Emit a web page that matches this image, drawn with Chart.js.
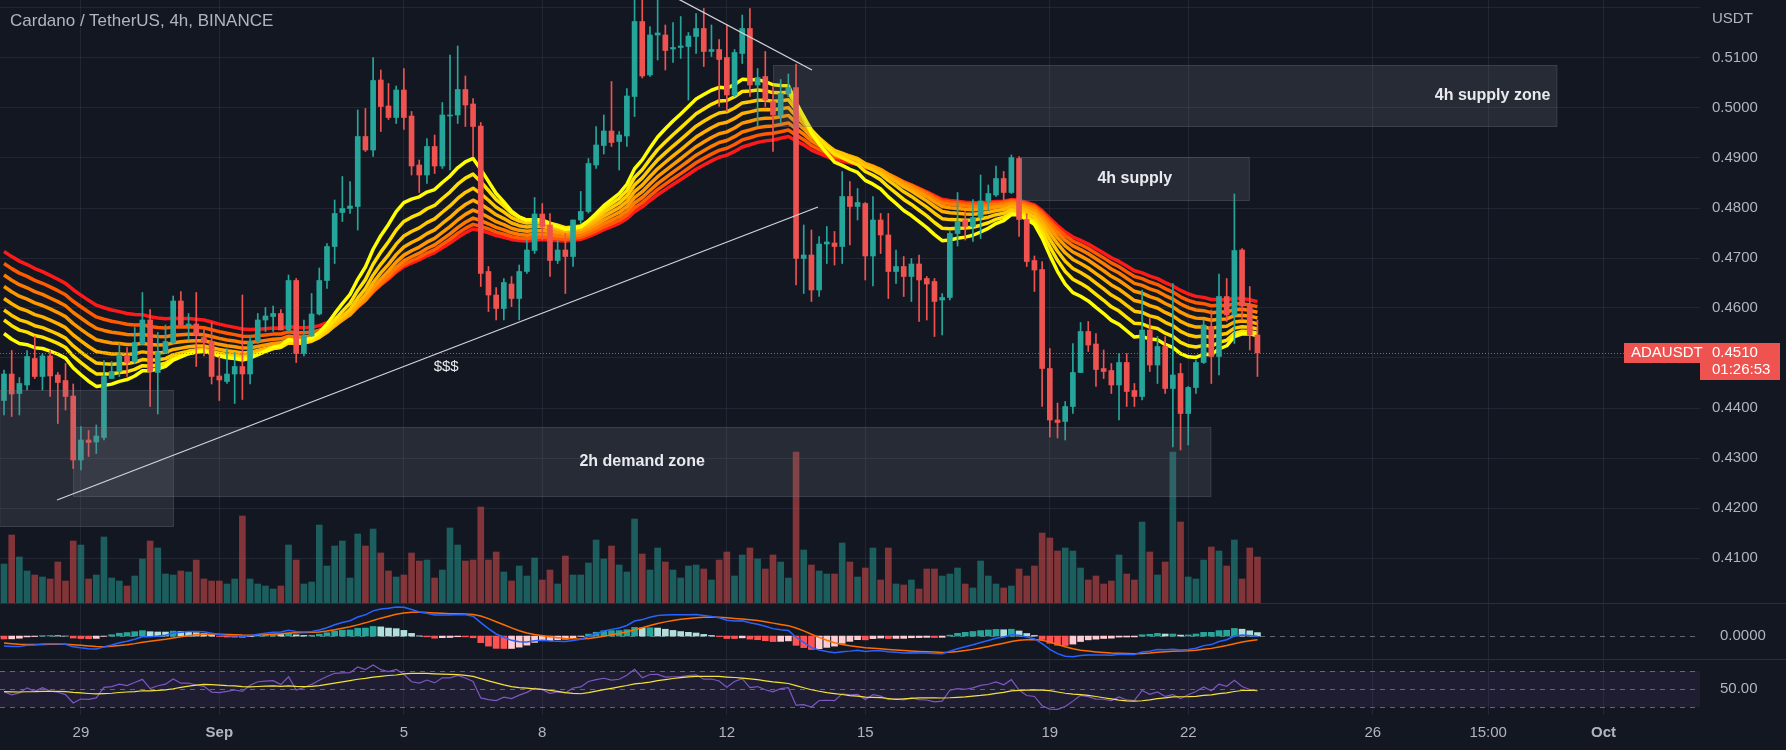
<!DOCTYPE html>
<html>
<head>
<meta charset="utf-8">
<script src="https://cdn.jsdelivr.net/npm/chart.js@4.4.0/dist/chart.umd.min.js"></script>
<style>
  html, body { margin: 0; padding: 0; background: #131722; overflow: hidden; }
  #wrap { position: relative; width: 1786px; height: 750px; background: #131722; }
  #wrap canvas { position: absolute; left: 0; }
  .txt { position: absolute; font-family: 'Liberation Sans', Arial, sans-serif; color: #b2b5be; white-space: nowrap; }
  .sep { position: absolute; left: 0; width: 1786px; height: 1px; background: #2a2e39; }
</style>
</head>
<body>
<div id="wrap">
  <canvas id="main" width="1786" height="603" style="top:0"></canvas>
  <canvas id="macd" width="1786" height="56" style="top:603px"></canvas>
  <canvas id="rsi" width="1786" height="91" style="top:659px"></canvas>
  <div class="sep" style="top:603px"></div>
  <div class="sep" style="top:659px"></div>
  <div class="txt" style="left:10px;top:12px;font-size:17px;line-height:18px;">Cardano / TetherUS, 4h, BINANCE</div>
  <div class="txt" style="left:1712px;top:9px;font-size:15px;line-height:17px;">USDT</div>
</div>
<script>
// ADAUSDT 4h candles, bar 0 = Aug 27 08:00, 6 bars per day
const opens = [
  0.4415, 0.4468, 0.4429, 0.4446, 0.4499, 0.4463, 0.4504, 0.4466, 0.4455, 0.4424,
  0.4296, 0.4336, 0.4332, 0.4341, 0.4459, 0.4473, 0.4505, 0.4493, 0.4528, 0.4576,
  0.4471, 0.4511, 0.4531, 0.4614, 0.4565, 0.4568, 0.4541, 0.4533, 0.4464, 0.4453,
  0.4468, 0.4483, 0.4468, 0.4533, 0.4576, 0.4583, 0.4589, 0.4556, 0.4655, 0.4509,
  0.4544, 0.4588, 0.4655, 0.4723, 0.4791, 0.4799, 0.4803, 0.4943, 0.4916, 0.5056,
  0.5004, 0.4981, 0.5036, 0.4984, 0.4886, 0.4866, 0.4923, 0.4884, 0.4984, 0.4986,
  0.5037, 0.5008, 0.4964, 0.4673, 0.4626, 0.4599, 0.4648, 0.4619, 0.4673, 0.4715,
  0.4788, 0.4766, 0.4695, 0.4716, 0.4703, 0.4776, 0.4793, 0.4886, 0.4925, 0.4954,
  0.4933, 0.4944, 0.5023, 0.5173, 0.5066, 0.5146, 0.5146, 0.5118, 0.5121, 0.5123,
  0.5143, 0.5159, 0.5113, 0.5117, 0.5101, 0.5026, 0.5109, 0.5159, 0.5046, 0.5063,
  0.5013, 0.4986, 0.5029, 0.5041, 0.4699, 0.4706, 0.4636, 0.4728, 0.4730, 0.4723,
  0.4823, 0.4803, 0.4809, 0.4704, 0.4776, 0.4746, 0.4673, 0.4683, 0.4663, 0.4688,
  0.4659, 0.4653, 0.4616, 0.4621, 0.4749, 0.4776, 0.4763, 0.4781, 0.4814, 0.4826,
  0.4859, 0.4831, 0.4899, 0.4777, 0.4695, 0.4677, 0.4479, 0.4376, 0.4373, 0.4403,
  0.4471, 0.4553, 0.4528, 0.4479, 0.4475, 0.4446, 0.4491, 0.4435, 0.4423, 0.4556,
  0.4486, 0.4523, 0.4439, 0.4469, 0.4389, 0.4441, 0.4491, 0.4563, 0.4503, 0.4623,
  0.4586, 0.4716, 0.4606, 0.4546
];
const highs = [
  0.4476, 0.4515, 0.4461, 0.4515, 0.4544, 0.4509, 0.4515, 0.4471, 0.4489, 0.4448,
  0.4363, 0.4355, 0.4366, 0.4495, 0.4493, 0.4529, 0.4521, 0.4561, 0.4631, 0.4597,
  0.4551, 0.4566, 0.4624, 0.4633, 0.4589, 0.4631, 0.4557, 0.4571, 0.4503, 0.4519,
  0.4511, 0.4626, 0.4543, 0.4589, 0.4601, 0.4604, 0.4597, 0.4666, 0.4659, 0.4576,
  0.4629, 0.4680, 0.4729, 0.4816, 0.4863, 0.4853, 0.4996, 0.4999, 0.5101, 0.5076,
  0.5049, 0.5044, 0.5079, 0.4993, 0.4896, 0.4939, 0.4946, 0.5011, 0.5106, 0.5124,
  0.5064, 0.5019, 0.4971, 0.4683, 0.4641, 0.4659, 0.4663, 0.4686, 0.4736, 0.4821,
  0.4809, 0.4789, 0.4736, 0.4749, 0.4776, 0.4833, 0.4899, 0.4963, 0.4986, 0.5053,
  0.4953, 0.5039, 0.5230, 0.5222, 0.5163, 0.5216, 0.5166, 0.5171, 0.5183, 0.5151,
  0.5189, 0.5199, 0.5166, 0.5137, 0.5166, 0.5117, 0.5186, 0.5199, 0.5079, 0.5113,
  0.5043, 0.5057, 0.5068, 0.5088, 0.4766, 0.4756, 0.4743, 0.4763, 0.4753, 0.4873,
  0.4853, 0.4839, 0.4811, 0.4823, 0.4789, 0.4789, 0.4716, 0.4703, 0.4699, 0.4706,
  0.4663, 0.4659, 0.4629, 0.4753, 0.4831, 0.4793, 0.4817, 0.4866, 0.4846, 0.4884,
  0.4873, 0.4906, 0.4903, 0.4789, 0.4704, 0.4693, 0.4519, 0.4410, 0.4413, 0.4529,
  0.4571, 0.4573, 0.4549, 0.4516, 0.4489, 0.4509, 0.4509, 0.4449, 0.4636, 0.4579,
  0.4543, 0.4543, 0.4649, 0.4489, 0.4443, 0.4496, 0.4576, 0.4596, 0.4668, 0.4659,
  0.4828, 0.4719, 0.4643, 0.4576
];
const lows = [
  0.4386, 0.4383, 0.4386, 0.4436, 0.4459, 0.4436, 0.4423, 0.4369, 0.4396, 0.4279,
  0.4276, 0.4303, 0.4309, 0.4336, 0.4459, 0.4463, 0.4463, 0.4489, 0.4526, 0.4403,
  0.4388, 0.4509, 0.4529, 0.4563, 0.4536, 0.4483, 0.4504, 0.4448, 0.4415, 0.4449,
  0.4409, 0.4417, 0.4448, 0.4529, 0.4553, 0.4553, 0.4556, 0.4553, 0.4491, 0.4504,
  0.4543, 0.4586, 0.4639, 0.4689, 0.4773, 0.4789, 0.4756, 0.4913, 0.4903, 0.4953,
  0.4977, 0.4969, 0.4957, 0.4866, 0.4831, 0.4849, 0.4869, 0.4879, 0.4876, 0.4969,
  0.4963, 0.4903, 0.4643, 0.4593, 0.4576, 0.4576, 0.4603, 0.4576, 0.4669, 0.4709,
  0.4736, 0.4663, 0.4689, 0.4629, 0.4683, 0.4769, 0.4790, 0.4879, 0.4908, 0.4923,
  0.4876, 0.4923, 0.4983, 0.5060, 0.5063, 0.5096, 0.5076, 0.5091, 0.5099, 0.5016,
  0.5109, 0.5083, 0.5103, 0.5003, 0.4993, 0.5023, 0.5089, 0.5023, 0.4963, 0.5003,
  0.4913, 0.4969, 0.5023, 0.4646, 0.4629, 0.4613, 0.4623, 0.4689, 0.4686, 0.4689,
  0.4726, 0.4776, 0.4656, 0.4644, 0.4709, 0.4619, 0.4649, 0.4623, 0.4613, 0.4573,
  0.4576, 0.4543, 0.4546, 0.4616, 0.4724, 0.4736, 0.4733, 0.4739, 0.4796, 0.4823,
  0.4815, 0.4829, 0.4743, 0.4683, 0.4633, 0.4403, 0.4342, 0.4340, 0.4336, 0.4389,
  0.4471, 0.4513, 0.4443, 0.4459, 0.4429, 0.4376, 0.4403, 0.4403, 0.4416, 0.4473,
  0.4449, 0.4429, 0.4322, 0.4316, 0.4326, 0.4429, 0.4489, 0.4449, 0.4466, 0.4573,
  0.4529, 0.4576, 0.4516, 0.4463
];
const closes = [
  0.4468, 0.4428, 0.4449, 0.4503, 0.4463, 0.4504, 0.4464, 0.4451, 0.4423, 0.4296,
  0.4336, 0.4331, 0.4344, 0.4463, 0.4473, 0.4506, 0.4491, 0.4531, 0.4576, 0.4473,
  0.4511, 0.4533, 0.4614, 0.4566, 0.4568, 0.4546, 0.4531, 0.4463, 0.4456, 0.4468,
  0.4483, 0.4468, 0.4533, 0.4576, 0.4584, 0.4589, 0.4556, 0.4655, 0.4509, 0.4544,
  0.4588, 0.4655, 0.4723, 0.4789, 0.4799, 0.4804, 0.4943, 0.4916, 0.5055, 0.5003,
  0.4981, 0.5036, 0.4981, 0.4884, 0.4866, 0.4923, 0.4884, 0.4986, 0.4986, 0.5037,
  0.5006, 0.4963, 0.4669, 0.4626, 0.4599, 0.4651, 0.4619, 0.4673, 0.4716, 0.4788,
  0.4763, 0.4695, 0.4716, 0.4703, 0.4776, 0.4793, 0.4889, 0.4926, 0.4954, 0.4931,
  0.4946, 0.5024, 0.5173, 0.5064, 0.5146, 0.5150, 0.5115, 0.5121, 0.5124, 0.5144,
  0.5159, 0.5113, 0.5117, 0.5097, 0.5026, 0.5111, 0.5159, 0.5046, 0.5061, 0.5016,
  0.4986, 0.5029, 0.5041, 0.4699, 0.4706, 0.4636, 0.4728, 0.4732, 0.4723, 0.4823,
  0.4803, 0.4811, 0.4704, 0.4776, 0.4746, 0.4673, 0.4683, 0.4663, 0.4688, 0.4656,
  0.4648, 0.4613, 0.4621, 0.4749, 0.4772, 0.4763, 0.4781, 0.4814, 0.4829, 0.4859,
  0.4831, 0.4901, 0.4777, 0.4693, 0.4676, 0.4479, 0.4376, 0.4371, 0.4403, 0.4471,
  0.4553, 0.4526, 0.4477, 0.4473, 0.4446, 0.4491, 0.4433, 0.4423, 0.4556, 0.4486,
  0.4523, 0.4439, 0.4466, 0.4389, 0.4441, 0.4491, 0.4566, 0.4503, 0.4623, 0.4586,
  0.4715, 0.4604, 0.4546, 0.4510
];
// volume in millions of ADA
const volumes = [
  7.8, 13.6, 9.2, 6.4, 5.6, 5.2, 4.8, 8.2, 4.4, 12.4,
  11.6, 4.8, 5.6, 13.2, 5.0, 4.4, 3.4, 5.4, 8.8, 12.4,
  11.0, 5.8, 5.6, 6.4, 6.2, 8.6, 4.8, 4.4, 4.4, 3.8,
  4.8, 17.4, 4.8, 3.8, 3.4, 2.8, 3.4, 11.6, 8.6, 3.8,
  4.2, 15.6, 7.4, 11.4, 12.4, 5.0, 13.8, 11.4, 14.8, 10.0,
  6.4, 5.2, 5.6, 10.0, 8.4, 8.6, 5.0, 6.6, 15.0, 11.6,
  8.4, 8.6, 19.2, 8.6, 10.2, 6.2, 4.4, 7.4, 5.4, 9.0,
  4.6, 6.6, 3.8, 9.4, 5.6, 5.6, 8.0, 12.6, 8.8, 11.4,
  7.6, 6.2, 16.8, 9.8, 6.6, 11.0, 8.2, 6.6, 5.0, 7.4,
  7.6, 6.8, 4.6, 8.6, 10.2, 5.4, 9.6, 11.0, 8.8, 6.8,
  9.6, 8.2, 5.0, 30.2, 10.6, 7.6, 6.4, 5.8, 5.8, 12.0,
  8.2, 5.2, 7.0, 11.0, 4.6, 11.0, 3.8, 3.6, 4.6, 2.8,
  6.8, 6.8, 5.4, 5.8, 7.0, 3.8, 3.0, 8.4, 5.4, 3.8,
  3.0, 3.4, 6.8, 5.4, 7.4, 14.0, 13.0, 10.4, 11.0, 10.4,
  7.0, 4.6, 5.4, 3.8, 4.4, 9.6, 5.8, 4.6, 16.2, 10.2,
  5.6, 8.2, 30.2, 16.2, 5.2, 4.8, 8.6, 11.2, 10.4, 7.4,
  12.6, 4.8, 11.0, 9.2
];

// time axis: bar index of each label
const timeTickBars = [10, 28, 52, 70, 94, 112, 136, 154, 178, 193, 208];
const timeTickLabels = ['29', 'Sep', '5', '8', '12', '15', '19', '22', '26', '15:00', 'Oct'];
const priceTicks = [0.41, 0.42, 0.43, 0.44, 0.45, 0.46, 0.47, 0.48, 0.49, 0.50, 0.51, 0.52];
const priceTickLabels = ['0.4100', '0.4200', '0.4300', '0.4400', '', '0.4600', '0.4700', '0.4800', '0.4900', '0.5000', '0.5100', ''];

// EMA ribbon: periods and their values at the first visible bar
const ribbonPeriods = [20, 25, 30, 35, 40, 45, 50, 55];
const ribbonStart = [0.4549, 0.4576, 0.4596, 0.4619, 0.4643, 0.4666, 0.4689, 0.4713];
const ribbonColors = ['#ffff00', '#ffe200', '#ffc800', '#ffb000', '#ff9800', '#ff7a00', '#ff5a00', '#ff1a1a'];

// MACD 12/26/9 and RSI 14 states at the first visible bar
const macdStart = { fast: 0.4500, slow: 0.4544, signal: -0.0031 };
const rsiStart = { avgGain: 0.00177, avgLoss: 0.0020, ma: 47 };

// drawings on the chart, in bar / price units
const zones = [
  { from: 100.0, to: 202.0, top: 0.5086, bottom: 0.4962, text: '4h supply zone', align: 'right' },
  { from: 132.1, to: 162.0, top: 0.4902, bottom: 0.4814, text: '4h supply', align: 'center' },
  { from: 8.97, to: 157.0, top: 0.4362, bottom: 0.4222, text: '2h demand zone', align: 'center' },
  { from: -0.6, to: 22.1, top: 0.4436, bottom: 0.4162, text: '', align: 'center' }
];
const trendLines = [
  { x1: 6.9, y1: 0.4216, x2: 105.85, y2: 0.4802 },
  { x1: 84.5, y1: 0.5244, x2: 105.07, y2: 0.5076 }
];
const notes = [{ x: 57.5, y: 0.4482, text: '$$$' }];

const X_MIN = -0.52, X_MAX = 220.55;
const P_MIN = 0.401, P_MAX = 0.5216;
const VOL_MAX = 120.6;

const UP = '#26a69a', DOWN = '#ef5350';
const GRID = 'rgba(54,60,78,0.42)';
const AXIS_TEXT = '#b2b5be';
const FONT = "'Liberation Sans', Arial, sans-serif";

Chart.defaults.font.family = FONT;
Chart.defaults.animation = false;

const isUp = opens.map((o, i) => closes[i] >= o);

function ema(values, period, start) {
  const k = 2 / (period + 1);
  let e = start;
  return values.map((v, i) => {
    if (i > 0) e = e + k * (v - e);
    return e;
  });
}

// scales must not push the plot area inward for their labels
function noPadding(s) {
  s.paddingTop = 0;
  s.paddingBottom = 0;
  s.paddingLeft = 0;
  s.paddingRight = 0;
}

function xAxis(showLabels) {
  return {
    type: 'linear',
    min: X_MIN,
    max: X_MAX,
    offset: false,
    grid: { color: GRID, drawTicks: false, offset: false },
    border: { display: false },
    afterBuildTicks: (s) => { s.ticks = timeTickBars.map((v) => ({ value: v })); },
    afterFit: (s) => { s.height = showLabels ? 35 : 0; noPadding(s); },
    ticks: {
      display: showLabels,
      autoSkip: false,
      maxRotation: 0,
      padding: 9,
      color: AXIS_TEXT,
      font: (ctx) => {
        const lbl = timeTickLabels[ctx.index];
        return { size: 15, weight: (lbl === 'Sep' || lbl === 'Oct') ? 'bold' : 'normal' };
      },
      callback: (v, i) => timeTickLabels[i]
    }
  };
}

function rightAxis(extra) {
  return Object.assign({
    position: 'right',
    border: { display: false },
    afterFit: (s) => { s.width = 86; noPadding(s); }
  }, extra);
}

const commonOptions = {
  responsive: false,
  devicePixelRatio: 1,
  layout: { padding: 0, autoPadding: false },
  plugins: { legend: { display: false }, tooltip: { enabled: false } }
};

// ---------- main pane ----------
const bars = closes.map((_, i) => i);

const ribbonDatasets = ribbonPeriods.map((p, j) => {
  const vals = ema(closes, p, ribbonStart[j]);
  return {
    type: 'line',
    data: vals.map((v, i) => ({ x: i, y: v })),
    borderColor: ribbonColors[j],
    borderWidth: 3.5,
    pointRadius: 0,
    borderJoinStyle: 'round',
    yAxisID: 'y',
    order: 10 + j
  };
});

const drawingsPlugin = {
  id: 'drawings',
  afterDatasetsDraw(chart) {
    const { ctx, chartArea, scales: { x, y } } = chart;
    ctx.save();
    ctx.beginPath();
    ctx.rect(chartArea.left, chartArea.top, chartArea.right - chartArea.left, chartArea.bottom - chartArea.top);
    ctx.clip();

    // last price dotted line
    const py = Math.round(y.getPixelForValue(closes[closes.length - 1])) + 0.5;
    ctx.strokeStyle = 'rgba(239,83,80,0.85)';
    ctx.lineWidth = 1;
    ctx.setLineDash([1, 2]);
    ctx.beginPath();
    ctx.moveTo(chartArea.left, py);
    ctx.lineTo(chartArea.right, py);
    ctx.stroke();
    ctx.setLineDash([]);

    zones.forEach((z) => {
      const x1 = x.getPixelForValue(z.from), x2 = x.getPixelForValue(z.to);
      const y1 = y.getPixelForValue(z.top), y2 = y.getPixelForValue(z.bottom);
      ctx.fillStyle = 'rgba(120,123,134,0.2)';
      ctx.fillRect(x1, y1, x2 - x1, y2 - y1);
      ctx.strokeStyle = 'rgba(120,123,134,0.25)';
      ctx.strokeRect(x1 + 0.5, y1 + 0.5, x2 - x1 - 1, y2 - y1 - 1);
      if (z.text) {
        ctx.fillStyle = '#e9eaee';
        ctx.font = 'bold 16px ' + FONT;
        ctx.textBaseline = 'middle';
        ctx.textAlign = z.align;
        const tx = z.align === 'right' ? x2 - 7 : (x1 + x2) / 2;
        ctx.fillText(z.text, tx, (y1 + y2) / 2);
      }
    });

    ctx.strokeStyle = '#d1d4dc';
    ctx.lineWidth = 1.3;
    trendLines.forEach((t) => {
      ctx.beginPath();
      ctx.moveTo(x.getPixelForValue(t.x1), y.getPixelForValue(t.y1));
      ctx.lineTo(x.getPixelForValue(t.x2), y.getPixelForValue(t.y2));
      ctx.stroke();
    });

    notes.forEach((n) => {
      ctx.fillStyle = '#e9eaee';
      ctx.font = '15px ' + FONT;
      ctx.textAlign = 'center';
      ctx.textBaseline = 'middle';
      ctx.fillText(n.text, x.getPixelForValue(n.x), y.getPixelForValue(n.y));
    });
    ctx.restore();
  },
  afterDraw(chart) {
    const { ctx, chartArea, scales: { y } } = chart;
    const last = closes[closes.length - 1];
    const top = Math.round(y.getPixelForValue(last)) - 10;
    ctx.save();
    ctx.fillStyle = DOWN;
    ctx.fillRect(chartArea.right - 76, top, 76, 20);
    ctx.fillRect(chartArea.right, top, 80, 37);
    ctx.fillStyle = '#ffffff';
    ctx.font = '15px ' + FONT;
    ctx.textBaseline = 'middle';
    ctx.textAlign = 'left';
    ctx.fillText('ADAUSDT', chartArea.right - 69, top + 10);
    ctx.fillText(last.toFixed(4), chartArea.right + 12, top + 10);
    ctx.fillText('01:26:53', chartArea.right + 12, top + 27);
    ctx.restore();
  }
};

new Chart(document.getElementById('main'), {
  type: 'bar',
  data: {
    datasets: [
      {
        data: bars.map((i) => ({ x: i, y: [opens[i], closes[i]] })),
        backgroundColor: isUp.map((u) => (u ? UP : DOWN)),
        barThickness: 5,
        minBarLength: 1,
        grouped: false,
        yAxisID: 'y',
        order: 0
      },
      {
        data: bars.map((i) => ({ x: i, y: [lows[i], highs[i]] })),
        backgroundColor: isUp.map((u) => (u ? UP : DOWN)),
        barThickness: 1,
        grouped: false,
        yAxisID: 'y',
        order: 1
      },
      ...ribbonDatasets,
      {
        data: bars.map((i) => ({ x: i, y: volumes[i] })),
        backgroundColor: isUp.map((u) => (u ? 'rgba(38,166,154,0.5)' : 'rgba(239,83,80,0.5)')),
        barThickness: 6,
        grouped: false,
        yAxisID: 'yVol',
        order: 30
      }
    ]
  },
  options: {
    ...commonOptions,
    scales: {
      x: xAxis(false),
      y: rightAxis({
        min: P_MIN,
        max: P_MAX,
        grid: { color: GRID, drawTicks: false },
        afterBuildTicks: (s) => { s.ticks = priceTicks.map((v) => ({ value: v })); },
        ticks: { color: AXIS_TEXT, padding: 12, font: { size: 15 }, callback: (v, i) => priceTickLabels[i] }
      }),
      yVol: { display: false, min: 0, max: VOL_MAX }
    }
  },
  plugins: [drawingsPlugin]
});

// ---------- MACD pane ----------
const emaFast = ema(closes, 12, macdStart.fast);
const emaSlow = ema(closes, 26, macdStart.slow);
const macdLine = emaFast.map((v, i) => v - emaSlow[i]);
const signalLine = ema(macdLine, 9, macdStart.signal);
const hist = macdLine.map((v, i) => v - signalLine[i]);
const histColors = hist.map((h, i) => {
  const prev = i > 0 ? hist[i - 1] : h;
  if (h >= 0) return h >= prev ? '#26a69a' : '#b2dfdb';
  return h <= prev ? '#ff5252' : '#ffcdd2';
});

const zeroLinePlugin = {
  id: 'zeroLine',
  beforeDatasetsDraw(chart) {
    const { ctx, chartArea, scales: { y } } = chart;
    const zy = Math.round(y.getPixelForValue(0)) + 0.5;
    ctx.save();
    ctx.strokeStyle = 'rgba(120,123,134,0.8)';
    ctx.setLineDash([5, 5]);
    ctx.beginPath();
    ctx.moveTo(chartArea.left, zy);
    ctx.lineTo(chartArea.right, zy);
    ctx.stroke();
    ctx.restore();
  }
};

new Chart(document.getElementById('macd'), {
  type: 'bar',
  data: {
    datasets: [
      {
        data: bars.map((i) => ({ x: i, y: hist[i] })),
        backgroundColor: histColors,
        barThickness: 6,
        grouped: false,
        order: 2
      },
      {
        type: 'line',
        data: bars.map((i) => ({ x: i, y: macdLine[i] })),
        borderColor: '#2962ff',
        borderWidth: 1.5,
        pointRadius: 0,
        order: 0
      },
      {
        type: 'line',
        data: bars.map((i) => ({ x: i, y: signalLine[i] })),
        borderColor: '#ff6d00',
        borderWidth: 1.5,
        pointRadius: 0,
        order: 1
      }
    ]
  },
  options: {
    ...commonOptions,
    scales: {
      x: xAxis(false),
      y: rightAxis({
        min: -0.0102,
        max: 0.0147,
        grid: { display: false },
        afterBuildTicks: (s) => { s.ticks = [{ value: 0 }]; },
        ticks: { color: AXIS_TEXT, padding: 12, font: { size: 15 }, callback: () => '0.0000' }
      })
    }
  },
  plugins: [zeroLinePlugin]
});

// ---------- RSI pane ----------
const rsiValues = [];
let avgGain = rsiStart.avgGain, avgLoss = rsiStart.avgLoss;
closes.forEach((c, i) => {
  if (i > 0) {
    const d = c - closes[i - 1];
    avgGain = (avgGain * 13 + Math.max(d, 0)) / 14;
    avgLoss = (avgLoss * 13 + Math.max(-d, 0)) / 14;
  }
  rsiValues.push(100 - 100 / (1 + avgGain / avgLoss));
});
const rsiMa = rsiValues.map((_, i) => {
  let sum = 0;
  for (let k = i - 13; k <= i; k++) sum += k >= 0 ? rsiValues[k] : rsiStart.ma;
  return sum / 14;
});

const rsiBandPlugin = {
  id: 'rsiBand',
  beforeDatasetsDraw(chart) {
    const { ctx, chartArea, scales: { y } } = chart;
    const y70 = y.getPixelForValue(70), y30 = y.getPixelForValue(30);
    ctx.save();
    ctx.fillStyle = 'rgba(126,87,194,0.1)';
    ctx.fillRect(chartArea.left, y70, chartArea.right - chartArea.left, y30 - y70);
    ctx.strokeStyle = 'rgba(120,123,134,0.8)';
    ctx.setLineDash([5, 5]);
    [70, 50, 30].forEach((lvl) => {
      const ly = Math.round(y.getPixelForValue(lvl)) + 0.5;
      ctx.beginPath();
      ctx.moveTo(chartArea.left, ly);
      ctx.lineTo(chartArea.right, ly);
      ctx.stroke();
    });
    ctx.restore();
  }
};

new Chart(document.getElementById('rsi'), {
  type: 'line',
  data: {
    datasets: [
      {
        data: bars.map((i) => ({ x: i, y: rsiValues[i] })),
        borderColor: '#7e57c2',
        borderWidth: 1.2,
        pointRadius: 0,
        order: 1
      },
      {
        data: bars.map((i) => ({ x: i, y: rsiMa[i] })),
        borderColor: '#f5e23a',
        borderWidth: 1.2,
        pointRadius: 0,
        order: 0
      }
    ]
  },
  options: {
    ...commonOptions,
    scales: {
      x: xAxis(true),
      y: rightAxis({
        min: 21.1,
        max: 83.3,
        grid: { display: false },
        afterBuildTicks: (s) => { s.ticks = [{ value: 50 }]; },
        ticks: { color: AXIS_TEXT, padding: 12, font: { size: 15 }, callback: () => '50.00' }
      })
    }
  },
  plugins: [rsiBandPlugin]
});
</script>
</body>
</html>
